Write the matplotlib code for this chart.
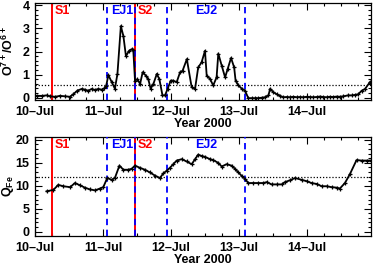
import matplotlib
matplotlib.use("Agg")
import matplotlib.pyplot as plt
from matplotlib.ticker import MultipleLocator

plt.rcParams['font.family'] = ['Liberation Sans', 'DejaVu Sans']
plt.rcParams['font.weight'] = 'bold'
plt.rcParams['mathtext.fontset'] = 'custom'
plt.rcParams['mathtext.rm'] = 'Liberation Sans:bold'
plt.rcParams['mathtext.bf'] = 'Liberation Sans:bold'
plt.rcParams['mathtext.it'] = 'Liberation Sans:bold'
plt.rcParams['mathtext.default'] = 'bf'

# ---- data (hours since 2000-07-10 00:00) ----
o_hours = [0.6, 2.4, 4.1, 5.3, 7.1, 8.8, 10.6, 12.4, 13.5, 15.0, 16.5, 17.6, 18.8, 20.0,
           21.2, 22.3, 23.5, 24.4, 25.1, 25.9, 27.1, 28.2, 29.1, 30.3, 31.2, 32.1, 33.2,
           34.1, 34.7, 35.3, 36.1, 37.1, 38.0, 39.1, 40.0, 40.8, 41.8, 43.0, 43.9, 45.0,
           45.9, 46.8, 47.9, 48.8, 50.0, 51.2, 52.1, 53.6, 55.3, 56.5, 57.6, 58.8, 60.0,
           60.6, 61.8, 62.9, 64.1, 64.7, 65.9, 67.1, 68.0, 69.2, 70.3, 70.8, 71.8, 73.0,
           74.1, 75.3, 76.5, 77.6, 78.8, 80.0, 81.2, 82.4, 83.0, 84.1, 85.3, 86.5, 87.6,
           88.8, 90.0, 91.2, 92.4, 93.5, 94.7, 95.9, 97.1, 98.2, 99.4, 100.6, 101.8,
           102.9, 104.1, 105.3, 106.5, 107.6, 108.8, 110.5, 111.8, 112.9, 114.1, 115.3,
           116.5, 118.2]
o_ratio = [0.08, 0.08, 0.10, 0.06, 0.04, 0.08, 0.06, 0.04, 0.15, 0.31, 0.38, 0.35, 0.30, 0.38,
           0.33, 0.38, 0.35, 0.40, 0.50, 0.98, 0.67, 0.39, 1.03, 3.10, 2.67, 1.80, 2.03,
           2.10, 2.05, 0.74, 0.80, 0.60, 1.10, 0.96, 0.80, 0.39, 0.60, 1.03, 0.80, 0.10,
           0.10, 0.38, 0.74, 0.74, 0.67, 1.10, 1.17, 1.67, 0.45, 0.39, 1.31, 1.53, 2.03,
           0.96, 0.81, 0.53, 0.88, 1.91, 1.39, 0.88, 1.24, 1.72, 1.31, 0.74, 0.53, 0.39,
           0.31, -0.02, -0.02, -0.02, -0.02, 0.00, 0.02, 0.10, 0.39, 0.24, 0.15, 0.08, 0.02,
           0.03, 0.02, 0.04, 0.02, 0.03, 0.02, 0.04, 0.03, 0.02, 0.03, 0.05, 0.03,
           0.02, 0.04, 0.03, 0.05, 0.04, 0.06, 0.10, 0.10, 0.12, 0.15, 0.30,
           0.38, 0.67]

q_hours = [4.1, 6.5, 8.2, 10.0, 12.4, 14.1, 15.9, 17.6, 19.4, 21.2, 22.9, 24.1, 25.5, 27.1,
           28.2, 29.8, 31.2, 32.9, 34.1, 35.3, 37.1, 38.8, 40.6, 42.4, 44.1, 45.3, 46.5,
           47.6, 48.8, 50.0, 51.8, 53.5, 55.3, 56.5, 57.6, 58.8, 60.0, 61.8, 62.9, 64.7,
           65.9, 67.6, 69.4, 70.6, 71.8, 72.9, 74.1, 75.3, 77.0, 78.8, 80.6, 81.8, 83.5,
           85.3, 87.1, 88.2, 90.0, 91.8, 94.1, 95.9, 97.6, 99.4, 101.2, 102.9, 104.7,
           106.5, 107.6, 109.4, 111.2, 113.5, 115.3, 117.1, 118.5]
q_fe = [8.8, 9.1, 10.2, 9.9, 9.7, 10.6, 10.1, 9.6, 9.2, 9.0, 9.4, 9.7, 11.7, 11.3,
        11.7, 14.4, 13.5, 13.5, 13.7, 14.4, 13.9, 13.5, 12.9, 12.2, 11.7, 12.7, 13.3,
        13.9, 14.7, 15.5, 15.8, 15.3, 14.7, 15.8, 16.8, 16.5, 16.3, 15.8, 15.6, 15.0,
        14.2, 14.7, 14.4, 13.7, 12.9, 12.2, 11.5, 10.6, 10.6, 10.6, 10.6, 10.8, 10.3,
        10.3, 10.3, 10.8, 11.2, 11.7, 11.3, 11.0, 10.6, 10.4, 9.9, 9.9, 9.7,
        9.6, 9.4, 10.6, 12.6, 15.6, 15.5, 15.5, 15.5]

o_threshold = 0.55
q_threshold = 12.0

shock_names = ['S1', 'S2']
shock_hours = [6.0, 35.3]
ej_bounds = [25.4, 35.3, 46.6, 74.1]
ej_names = ['EJ1', 'EJ2']
ej_label_hours = [26.8, 56.5]

day_ticks = [0, 24, 48, 72, 96]
day_labels = ['10\u2013Jul', '11\u2013Jul', '12\u2013Jul', '13\u2013Jul', '14\u2013Jul']
x_max = 118.6

fig = plt.figure(figsize=(3.74, 2.65), dpi=100)
W, H = 374, 265
left, right = 35, 371
ax1 = fig.add_axes([left / W, (H - 100) / H, (right - left) / W, 97 / H])
ax2 = fig.add_axes([left / W, (H - 236) / H, (right - left) / W, 99.3 / H])

RED = '#ff0000'
BLUE = '#0000ff'
fs = 9

def decorate(ax, ylo, yhi, ymaj, ymin_step):
    ax.set_xlim(0, x_max)
    ax.set_ylim(ylo, yhi)
    ax.set_xticks(day_ticks)
    ax.set_xticklabels(day_labels, fontsize=fs, fontweight='bold')
    ax.xaxis.set_minor_locator(MultipleLocator(6))
    ax.yaxis.set_major_locator(MultipleLocator(ymaj))
    ax.yaxis.set_minor_locator(MultipleLocator(ymin_step))
    ax.tick_params(which='both', direction='in', top=True, right=True, width=0.8)
    ax.tick_params(which='major', length=5, labelsize=fs, pad=4)
    ax.tick_params(which='minor', length=2.5)
    for lab in ax.get_yticklabels():
        lab.set_fontweight('bold')
    for s in ax.spines.values():
        s.set_linewidth(0.9)
    ax.set_xlabel('Year 2000', fontsize=fs, fontweight='bold', labelpad=0)
    # events
    for h in shock_hours:
        ax.axvline(h, color=RED, lw=1.4, zorder=2)
    for h in ej_bounds:
        ax.axvline(h, color=BLUE, lw=1.3, ls=(0, (3.5, 2.5)), zorder=3)
    for name, h in zip(shock_names, shock_hours):
        ax.text(h + 1.0, 0.975, name, transform=ax.get_xaxis_transform(), color=RED,
                fontsize=fs, fontweight='bold', va='top', ha='left')
    for name, h in zip(ej_names, ej_label_hours):
        ax.text(h, 0.975, name, transform=ax.get_xaxis_transform(), color=BLUE,
                fontsize=fs, fontweight='bold', va='top', ha='left')

decorate(ax1, -0.1, 4.1, 1, 0.2)
ax1.plot(o_hours, o_ratio, color='black', lw=1.3, marker='+', ms=3.5, mew=0.9, zorder=4)
ax1.axhline(o_threshold, color='black', lw=0.9, ls=(0, (1, 1.5)), zorder=1)
ax1.set_ylabel(r'O$^{7+}$/O$^{6+}$', fontsize=fs, fontweight='bold')
ax1.yaxis.set_label_coords(-0.056, 0.5)

decorate(ax2, -0.95, 20.7, 5, 1)
ax2.plot(q_hours, q_fe, color='black', lw=1.3, marker='+', ms=3.5, mew=0.9, zorder=4)
ax2.axhline(q_threshold, color='black', lw=0.9, ls=(0, (1, 1.5)), zorder=1)
ax2.set_ylabel(r'Q$_{Fe}$', fontsize=fs, fontweight='bold')
ax2.yaxis.set_label_coords(-0.058, 0.5)

fig.savefig('out.png', dpi=100)
